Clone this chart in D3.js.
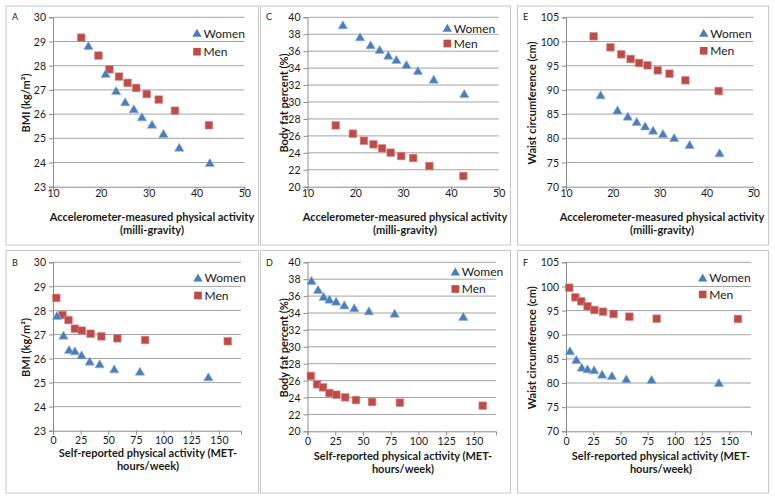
<!DOCTYPE html>
<html><head><meta charset="utf-8">
<script src="https://cdn.jsdelivr.net/npm/d3@7"></script>
<style>
html,body{margin:0;padding:0;background:#fff;}
svg{display:block;font-family:Lato,"Open Sans",sans-serif;}
</style></head>
<body><svg id="c" width="775" height="499"></svg>
<script>
// ---- data ----
const accelWomen = [17.4, 21.0, 23.2, 25.1, 26.9, 28.6, 30.7, 33.1, 36.4, 42.8];
const accelMen   = [15.9, 19.5, 21.8, 23.8, 25.6, 27.4, 29.6, 32.1, 35.5, 42.6];
const selfWomen  = [3.6, 9.5, 14.5, 19.8, 25.8, 33.2, 42.2, 55.4, 78.6, 140.5];
const selfMen    = [3.0, 8.6, 14.0, 19.8, 26.1, 34.0, 43.7, 58.2, 83.3, 158.0];

const bmiAccelWomen = [28.81, 27.66, 26.95, 26.49, 26.20, 25.87, 25.56, 25.18, 24.61, 23.98];
const bmiAccelMen   = [29.16, 28.42, 27.85, 27.55, 27.29, 27.08, 26.83, 26.60, 26.14, 25.54];
const fatAccelWomen = [39.06, 37.64, 36.69, 36.14, 35.47, 34.96, 34.37, 33.66, 32.64, 30.94];
const fatAccelMen   = [27.24, 26.26, 25.43, 25.00, 24.53, 24.02, 23.62, 23.39, 22.44, 21.26];
const waistAccelWomen = [88.87, 85.77, 84.46, 83.36, 82.46, 81.57, 80.88, 80.05, 78.60, 76.89];
const waistAccelMen   = [101.07, 98.80, 97.35, 96.39, 95.56, 95.08, 94.04, 93.35, 91.98, 89.77];

const bmiSelfWomen = [27.77, 26.95, 26.35, 26.30, 26.13, 25.87, 25.76, 25.55, 25.45, 25.22];
const bmiSelfMen   = [28.52, 27.81, 27.60, 27.24, 27.16, 27.03, 26.92, 26.84, 26.77, 26.72];
const fatSelfWomen = [37.79, 36.73, 35.90, 35.58, 35.34, 34.90, 34.56, 34.20, 33.92, 33.53];
const fatSelfMen   = [26.55, 25.56, 25.20, 24.53, 24.33, 24.02, 23.70, 23.47, 23.39, 23.03];
const waistSelfWomen = [86.57, 84.77, 83.17, 82.84, 82.63, 81.73, 81.45, 80.77, 80.63, 80.00];
const waistSelfMen   = [99.74, 97.75, 96.92, 95.89, 95.12, 94.77, 94.29, 93.74, 93.32, 93.26];

const accelTicks = [10, 20, 30, 40, 50];
const selfTicks  = [0, 25, 50, 75, 100, 125, 150];
const bmiTicks   = [23, 24, 25, 26, 27, 28, 29, 30];
const fatTicks   = [20, 22, 24, 26, 28, 30, 32, 34, 36, 38, 40];
const waistTicks = [70, 75, 80, 85, 90, 95, 100, 105];

const seriesNames = ["Women", "Men"];
const accelTitle = ["Accelerometer-measured physical activity", "(milli-gravity)"];
const selfTitle  = ["Self-reported physical activity (MET-", "hours/week)"];

// ---- layout ----
const panels = [
  {letter:"A", box:[6,6,258.5,245], plot:[53,17.3,244.3,186.7], xDom:[10,50], xT:accelTicks, xW:accelWomen, xM:accelMen,
   yDom:[23,30], yT:bmiTicks, yW:bmiAccelWomen, yM:bmiAccelMen, yTitle:"BMI (kg/m²)", yTitleX:26,
   xTitle:accelTitle, xTitleX:152, xTitleY:220.5, tickY:197, lg:[197,33.3], lgGap:18.4, let:[12,20]},
  {letter:"C", box:[260.5,6,510.5,245], plot:[307.5,17.3,498.7,186.7], xDom:[10,50], xT:accelTicks, xW:accelWomen, xM:accelMen,
   yDom:[20,40], yT:fatTicks, yW:fatAccelWomen, yM:fatAccelMen, yTitle:"Body fat percent (%)", yTitleX:284,
   xTitle:accelTitle, xTitleX:405, xTitleY:220.5, tickY:197, lg:[447.3,28.3], lgGap:15.2, let:[266,20]},
  {letter:"E", box:[517.5,6,768.5,245], plot:[566,17.3,753.3,186.7], xDom:[10,50], xT:accelTicks, xW:accelWomen, xM:accelMen,
   yDom:[70,105], yT:waistTicks, yW:waistAccelWomen, yM:waistAccelMen, yTitle:"Waist circumference (cm)", yTitleX:532.5,
   xTitle:accelTitle, xTitleX:662, xTitleY:220.5, tickY:197, lg:[703.7,33.3], lgGap:17.5, let:[523,20]},
  {letter:"B", box:[6,250.5,258.5,493], plot:[53,262.3,241,430.7], xDom:[0,170], xT:selfTicks, xW:selfWomen, xM:selfMen,
   yDom:[23,30], yT:bmiTicks, yW:bmiSelfWomen, yM:bmiSelfMen, yTitle:"BMI (kg/m²)", yTitleX:26,
   xTitle:selfTitle, xTitleX:148, xTitleY:456.5, tickY:443.5, lg:[198,278], lgGap:17.5, let:[12,266]},
  {letter:"D", box:[260.5,250.5,510.5,493], plot:[307.5,262.3,496,431.3], xDom:[0,170], xT:selfTicks, xW:selfWomen, xM:selfMen,
   yDom:[20,40], yT:fatTicks, yW:fatSelfWomen, yM:fatSelfMen, yTitle:"Body fat percent (%)", yTitleX:284,
   xTitle:selfTitle, xTitleX:403, xTitleY:459.5, tickY:444.5, lg:[455.3,272], lgGap:17, let:[266,266]},
  {letter:"F", box:[517.5,250.5,768.5,493], plot:[566,262.3,751,431.3], xDom:[0,170], xT:selfTicks, xW:selfWomen, xM:selfMen,
   yDom:[70,105], yT:waistTicks, yW:waistSelfWomen, yM:waistSelfMen, yTitle:"Waist circumference (cm)", yTitleX:532.5,
   xTitle:selfTitle, xTitleX:661, xTitleY:459.5, tickY:444.5, lg:[702.7,278], lgGap:16.5, let:[523,266]}
];

const colW = "#4A7EBB", colM = "#BE4B48";
const gridCol = "#a3a3a3", axisCol = "#8c8c8c", textCol = "#1a1a1a";
const svg = d3.select("#c");
const triSym = d3.symbol().type(d3.symbolTriangle).size(38);
const sqSym = d3.symbol().type(d3.symbolSquare).size(58);

panels.forEach(p => {
  const g = svg.append("g");
  const [bx0, by0, bx1, by1] = p.box;
  g.append("rect").attr("x", bx0).attr("y", by0).attr("width", bx1 - bx0).attr("height", by1 - by0)
    .attr("fill", "none").attr("stroke", "#c8c8c8").attr("stroke-width", 1);

  const [px0, py0, px1, py1] = p.plot;
  const x = d3.scaleLinear().domain(p.xDom).range([px0, px1]);
  const y = d3.scaleLinear().domain(p.yDom).range([py1, py0]);

  // gridlines
  g.append("g").selectAll("line").data(p.yT.slice(1)).join("line")
    .attr("x1", px0).attr("x2", px1).attr("y1", d => y(d)).attr("y2", d => y(d))
    .attr("stroke", gridCol).attr("stroke-width", 1);

  // axes
  const xa = g.append("g").attr("transform", `translate(0,${py1})`)
    .call(d3.axisBottom(x).tickValues(p.xT).tickSize(4).tickFormat(d3.format("d")));
  xa.select(".domain").attr("stroke", axisCol);
  xa.selectAll(".tick line").attr("stroke", axisCol);
  xa.selectAll(".tick text").attr("y", null).attr("dy", null)
    .attr("transform", `translate(0,${p.tickY - py1})`)
    .attr("fill", textCol).style("font-size", "10.5px").style("font-family", "Lato");

  const ya = g.append("g").attr("transform", `translate(${px0},0)`)
    .call(d3.axisLeft(y).tickValues(p.yT).tickSize(4).tickFormat(d3.format("d")));
  ya.select(".domain").attr("stroke", axisCol);
  ya.selectAll(".tick line").attr("stroke", axisCol);
  ya.selectAll(".tick text").attr("x", -7).attr("dy", "0.35em")
    .attr("fill", textCol).style("font-size", "10.5px").style("font-family", "Lato");

  // markers
  const men = p.xM.map((v, i) => [v, p.yM[i]]);
  const women = p.xW.map((v, i) => [v, p.yW[i]]);
  g.append("g").selectAll("path").data(men).join("path")
    .attr("d", sqSym).attr("transform", d => `translate(${x(d[0])},${y(d[1])})`)
    .attr("fill", colM).attr("stroke", "#d98a88").attr("stroke-width", 0.6);
  g.append("g").selectAll("path").data(women).join("path")
    .attr("d", triSym).attr("transform", d => `translate(${x(d[0])},${y(d[1]) + 0.8})`)
    .attr("fill", colW).attr("stroke", "#8fb0d8").attr("stroke-width", 0.6);

  // legend
  const lg = g.append("g");
  [0, 1].forEach(i => {
    const cy = p.lg[1] + i * p.lgGap;
    lg.append("path").attr("d", i === 0 ? triSym : sqSym)
      .attr("transform", `translate(${p.lg[0]},${cy + (i === 0 ? 0.8 : 0)})`)
      .attr("fill", i === 0 ? colW : colM);
    lg.append("text").attr("x", p.lg[0] + 6.5).attr("y", cy).attr("dy", "0.36em")
      .attr("fill", textCol).style("font-size", "12px").text(seriesNames[i]);
  });

  // titles
  g.append("text").attr("transform", `translate(${p.yTitleX},${(py0 + py1) / 2 + 1}) rotate(-90)`)
    .attr("text-anchor", "middle").attr("dy", "0.35em")
    .style("font-size", "11px").style("font-weight", "bold").attr("fill", textCol).text(p.yTitle);
  p.xTitle.forEach((t, i) => {
    g.append("text").attr("x", p.xTitleX).attr("y", p.xTitleY + i * 13.3)
      .attr("text-anchor", "middle").style("font-size", "11px").style("font-weight", "bold")
      .attr("fill", textCol).text(t);
  });

  // panel letter
  g.append("text").attr("x", p.let[0]).attr("y", p.let[1]).style("font-size", "9px")
    .attr("fill", textCol).text(p.letter);
});
</script>
</body></html>
